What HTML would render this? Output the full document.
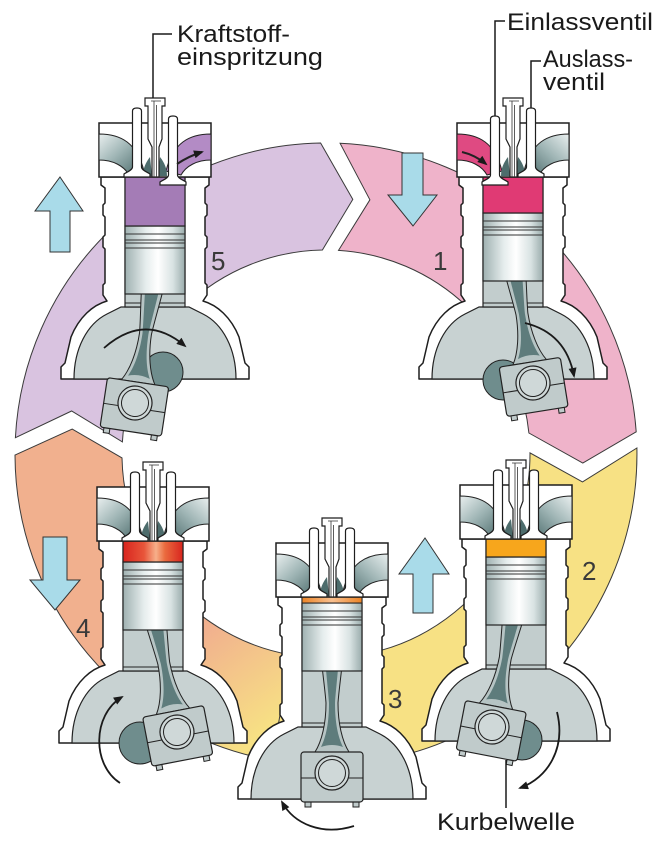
<!DOCTYPE html>
<html>
<head>
<meta charset="utf-8">
<style>
  html,body{margin:0;padding:0;background:#fff;}
  svg{display:block;}
  text{font-family:"Liberation Sans",Arial,sans-serif;}
</style>
</head>
<body>
<svg width="663" height="842" viewBox="0 0 663 842" xmlns="http://www.w3.org/2000/svg">
<defs>
  <linearGradient id="portG" x1="0" y1="0" x2="1" y2="1">
    <stop offset="0" stop-color="#e9efef"/>
    <stop offset="0.45" stop-color="#9fb5b5"/>
    <stop offset="1" stop-color="#456565"/>
  </linearGradient>
  <linearGradient id="pistonG" x1="0" y1="0" x2="1" y2="0">
    <stop offset="0" stop-color="#9fb1b1"/>
    <stop offset="0.35" stop-color="#e6eded"/>
    <stop offset="0.55" stop-color="#ffffff"/>
    <stop offset="0.8" stop-color="#d8e2e2"/>
    <stop offset="1" stop-color="#9aacac"/>
  </linearGradient>
  <linearGradient id="redG" x1="0" y1="0" x2="1" y2="0">
    <stop offset="0" stop-color="#d8241e"/>
    <stop offset="0.35" stop-color="#e8553a"/>
    <stop offset="0.55" stop-color="#f7b08a"/>
    <stop offset="0.7" stop-color="#ea6a3e"/>
    <stop offset="1" stop-color="#d8241e"/>
  </linearGradient>
  <linearGradient id="thinG" x1="0" y1="0" x2="1" y2="0">
    <stop offset="0" stop-color="#ec8426"/>
    <stop offset="0.5" stop-color="#f8c090"/>
    <stop offset="1" stop-color="#ec8426"/>
  </linearGradient>
  <linearGradient id="bandG" gradientUnits="userSpaceOnUse" x1="190" y1="640" x2="262" y2="735">
    <stop offset="0" stop-color="#f1b08e"/>
    <stop offset="1" stop-color="#f7e184"/>
  </linearGradient>
  <marker id="ah" viewBox="0 0 10 8" markerWidth="11" markerHeight="8" refX="8" refY="4" orient="auto" markerUnits="userSpaceOnUse">
    <path d="M0,0 L10,4 L0,8 Z" fill="#1a1a1a"/>
  </marker>

  <path id="body" d="M 2,54 H 110 V 62 L 106,65 V 80 L 108,82 V 92 L 106,94 V 112 L 108,114 V 124 L 106,126 V 160 L 108,162 V 172 L 104,178 C 118,182 132,194 140,214 L 146,240 L 150,244 V 256 H -38 V 244 L -34,240 L -28,214 C -20,194 -6,182 8,178 L 4,172 V 162 L 6,160 V 126 L 4,124 V 114 L 6,112 V 94 L 4,92 V 82 L 6,80 V 65 L 2,62 Z" fill="#fff" stroke="#1e1e1e" stroke-width="1.5" stroke-linejoin="round"/>

  <g id="cg">
    <path d="M -25,256 C -25,226 -12,201 8,191 L 22,184 H 90 L 104,191 C 124,201 137,226 137,256 Z" fill="#c8d2d2" stroke="#222" stroke-width="1.2"/>
    <rect x="26" y="54" width="60" height="130" fill="#c2cdcd" stroke="#222" stroke-width="1.2"/>
    <line x1="26" y1="180" x2="86" y2="180" stroke="#222" stroke-width="1"/>
  </g>

  <g id="rod">
    <path d="M -13,-140 H 13 C 11,-110 7,-85 6,-70 C 6,-50 10,-32 17,-21 H -17 C -10,-32 -6,-50 -6,-70 C -7,-85 -11,-110 -13,-140 Z" fill="#b6c4c4" stroke="#222" stroke-width="1"/>
    <path d="M -9,-140 H 9 C 7,-110 4,-85 3,-70 C 3,-50 6,-36 11,-26 Q 0,-30 -11,-26 C -6,-36 -3,-50 -3,-70 C -4,-85 -7,-110 -9,-140 Z" fill="#5e7c7c"/>
  </g>

  <g id="be">
    <rect x="-27" y="28" width="6" height="6" fill="#c0cbcb" stroke="#222" stroke-width="1"/>
    <rect x="21" y="28" width="6" height="6" fill="#c0cbcb" stroke="#222" stroke-width="1"/>
    <rect x="-31" y="-21" width="62" height="50" rx="3" fill="#c0cbcb" stroke="#222" stroke-width="1.2"/>
    <line x1="-31" y1="5" x2="31" y2="5" stroke="#222" stroke-width="1"/>
    <circle r="17" fill="#cfd8d8" stroke="#222" stroke-width="1.2"/>
    <circle r="13.5" fill="none" stroke="#222" stroke-width="1"/>
  </g>

  <g id="pis">
    <rect x="26" y="0" width="60" height="68" fill="url(#pistonG)" stroke="#222" stroke-width="1.2"/>
    <path d="M26,8 H86 M26,14 H86 M26,17 H86 M26,22 H86" stroke="#333" stroke-width="1.1"/>
  </g>

  <rect id="hb" x="0" y="0" width="112" height="54" fill="#fff" stroke="#1e1e1e" stroke-width="1.5"/>
  <path id="port" d="M 0,11 C 22,11 38,20 45,48 L 30,52 C 25,43 14,37 0,37 Z" stroke="#222" stroke-width="1"/>
  <path id="seat" d="M 44,53 C 44,45 47,39 51,34 L 53,53 Z" fill="#4d6c6c"/>
  <path id="valve" d="M -4.5,-12 Q -4.5,-15 0,-15 Q 4.5,-15 4.5,-12 V 44 C 4.5,47 10,49 13,51 V 54 H -13 V 51 C -10,49 -4.5,47 -4.5,44 Z" fill="#fff" stroke="#1e1e1e" stroke-width="1.2"/>
  <g id="inj">
    <path d="M 46,-25 H 66 V -17 H 63 V 16 L 60,24 V 54 H 53 V 24 L 49,16 V -17 H 46 Z" fill="#fff" stroke="#1e1e1e" stroke-width="1.2"/>
    <path d="M 52,-22 H 62 M 55,-22 V 54 M 57.5,-18 V 54" stroke="#333" stroke-width="0.8" fill="none"/>
  </g>
</defs>

<rect width="663" height="842" fill="#fff"/>

<!-- colored cycle bands -->
<g stroke="#3a3a3a" stroke-width="1" stroke-linejoin="miter">
  <path d="M 15.4,437.7 A 311 311 0 0 1 320.6,143.0 L 352.8,199.4 L 322.4,250.0 A 204 204 0 0 0 122.4,441.9 L 71.6,411.0 Z" fill="#d9c3e0"/>
  <path d="M 340.1,143.3 A 311 311 0 0 1 636.2,431.8 L 582.8,463.0 L 528.9,433.0 A 204 204 0 0 0 338.5,250.4 L 369.9,199.8 Z" fill="#efb3ca"/>
  <path d="M 636.9,448.0 A 311 311 0 0 1 261.3,758.2 L 283.6,653.5 A 204 204 0 0 0 530.0,452.9 L 582.5,481.9 Z" fill="#f7e184"/>
  <path d="M 272.0,760.3 A 311 311 0 0 1 15.0,455.1 L 72.2,429.1 L 122.0,457.9 A 204 204 0 0 0 290.6,654.9 Z" fill="url(#bandG)"/>
</g>

<!-- Engine 5 -->
<g transform="translate(99,123)">
  <use href="#body"/>
  <use href="#cg"/>
  <circle cx="64" cy="249" r="20" fill="#6f8d8d" stroke="#222"/>
  <g transform="translate(36,280) rotate(8.6)"><use href="#rod"/><use href="#be"/></g>
  <use href="#pis" y="103"/>
  <rect x="26" y="54" width="60" height="49" fill="#a47cb6" stroke="#222" stroke-width="1.2"/>
  <use href="#hb"/>
  <use href="#port" fill="url(#portG)"/>
  <use href="#port" fill="#b38bc5" transform="translate(112,0) scale(-1,1)"/>
  <use href="#seat"/>
  <use href="#seat" transform="translate(112,0) scale(-1,1)"/>
  <use href="#inj"/>
  <use href="#valve" x="38"/>
  <use href="#valve" x="74" y="8"/>
  <path d="M78,41 Q 90,33 103,29" stroke="#222" stroke-width="2" fill="none" marker-end="url(#ah)"/>
</g>

<!-- Engine 1 -->
<g transform="translate(457,123)">
  <use href="#body"/>
  <use href="#cg"/>
  <circle cx="46" cy="257" r="20" fill="#6f8d8d" stroke="#222"/>
  <g transform="translate(76,260) rotate(-9.1)"><use href="#rod"/><use href="#be"/></g>
  <use href="#pis" y="90"/>
  <rect x="26" y="54" width="60" height="36" fill="#e03a74" stroke="#222" stroke-width="1.2"/>
  <use href="#hb"/>
  <use href="#port" fill="#df4a82"/>
  <use href="#port" fill="url(#portG)" transform="translate(112,0) scale(-1,1)"/>
  <use href="#seat"/>
  <use href="#seat" transform="translate(112,0) scale(-1,1)"/>
  <use href="#inj"/>
  <use href="#valve" x="38" y="8"/>
  <use href="#valve" x="74"/>
  <path d="M5,29 Q 18,32 29,41" stroke="#222" stroke-width="2" fill="none" marker-end="url(#ah)"/>
</g>

<!-- Engine 4 -->
<g transform="translate(97,487)">
  <use href="#body"/>
  <use href="#cg"/>
  <circle cx="43" cy="256" r="21" fill="#6f8d8d" stroke="#222"/>
  <g transform="translate(80,245) rotate(-10.9)"><use href="#rod"/><use href="#be"/></g>
  <use href="#pis" y="75"/>
  <rect x="26" y="54" width="60" height="21" fill="url(#redG)" stroke="#222" stroke-width="1.2"/>
  <use href="#hb"/>
  <use href="#port" fill="url(#portG)"/>
  <use href="#port" fill="url(#portG)" transform="translate(112,0) scale(-1,1)"/>
  <use href="#seat"/>
  <use href="#seat" transform="translate(112,0) scale(-1,1)"/>
  <use href="#inj"/>
  <use href="#valve" x="38"/>
  <use href="#valve" x="74"/>
</g>

<!-- Engine 3 -->
<g transform="translate(276,543)">
  <use href="#body"/>
  <use href="#cg"/>
  <g transform="translate(56,230)"><use href="#rod"/><use href="#be"/></g>
  <use href="#pis" y="60"/>
  <rect x="26" y="54" width="60" height="6" fill="url(#thinG)" stroke="#222" stroke-width="1"/>
  <use href="#hb"/>
  <use href="#port" fill="url(#portG)"/>
  <use href="#port" fill="url(#portG)" transform="translate(112,0) scale(-1,1)"/>
  <use href="#seat"/>
  <use href="#seat" transform="translate(112,0) scale(-1,1)"/>
  <use href="#inj"/>
  <use href="#valve" x="38"/>
  <use href="#valve" x="74"/>
</g>

<!-- Engine 2 -->
<g transform="translate(460,485)">
  <use href="#body"/>
  <use href="#cg"/>
  <circle cx="62" cy="255" r="20" fill="#6f8d8d" stroke="#222"/>
  <g transform="translate(32,242) rotate(10.9)"><use href="#rod"/><use href="#be"/></g>
  <use href="#pis" y="72"/>
  <rect x="26" y="54" width="60" height="18" fill="#f7a61c" stroke="#222" stroke-width="1.2"/>
  <use href="#hb"/>
  <use href="#port" fill="url(#portG)"/>
  <use href="#port" fill="url(#portG)" transform="translate(112,0) scale(-1,1)"/>
  <use href="#seat"/>
  <use href="#seat" transform="translate(112,0) scale(-1,1)"/>
  <use href="#inj"/>
  <use href="#valve" x="38"/>
  <use href="#valve" x="74"/>
</g>

<!-- crank rotation arrows -->
<g stroke="#1a1a1a" stroke-width="1.8" fill="none">
  <path d="M 104,348 Q 145,312 185,346" marker-end="url(#ah)"/>
  <path d="M 525,323 Q 566,333 574,376" marker-end="url(#ah)"/>
  <path d="M 120,783 C 92,765 92,715 122,697" marker-end="url(#ah)"/>
  <path d="M 354,826 C 322,836 294,824 282,802" marker-end="url(#ah)"/>
  <path d="M 557,712 C 566,748 548,778 520,788" marker-end="url(#ah)"/>
</g>

<!-- blue stroke arrows -->
<g fill="#a9dbe9" stroke="#333" stroke-width="1" stroke-linejoin="miter">
  <polygon points="60,177 83,211 70,211 70,252 50,252 50,211 35,211"/>
  <polygon points="402,153 423,153 423,195 437,195 413,226 388,195 402,195"/>
  <polygon points="43,537 67,537 67,580 80,580 55,610 30,580 43,580"/>
  <polygon points="425,538 449,574 433,574 433,613 413,613 413,574 399,574"/>
</g>

<!-- stroke numbers -->
<g fill="#3a3a3a" font-size="26">
  <text x="211" y="270">5</text>
  <text x="433" y="270">1</text>
  <text x="76" y="637">4</text>
  <text x="388" y="708">3</text>
  <text x="582" y="580">2</text>
</g>

<!-- leader lines -->
<g stroke="#1a1a1a" stroke-width="1.5" fill="none">
  <path d="M 172,34 H 153 V 98"/>
  <path d="M 505,21 H 495 V 116"/>
  <path d="M 541,61 H 531 V 108"/>
  <path d="M 506,760 V 808"/>
</g>

<!-- labels -->
<g fill="#1a1a1a" font-size="24">
  <text x="177" y="42" textLength="113" lengthAdjust="spacingAndGlyphs">Kraftstoff-</text>
  <text x="177" y="65" textLength="146" lengthAdjust="spacingAndGlyphs">einspritzung</text>
  <text x="507" y="30" textLength="146" lengthAdjust="spacingAndGlyphs">Einlassventil</text>
  <text x="543" y="67" textLength="90" lengthAdjust="spacingAndGlyphs">Auslass-</text>
  <text x="543" y="90" textLength="62" lengthAdjust="spacingAndGlyphs">ventil</text>
  <text x="437" y="830" textLength="138" lengthAdjust="spacingAndGlyphs">Kurbelwelle</text>
</g>
</svg>
</body>
</html>
